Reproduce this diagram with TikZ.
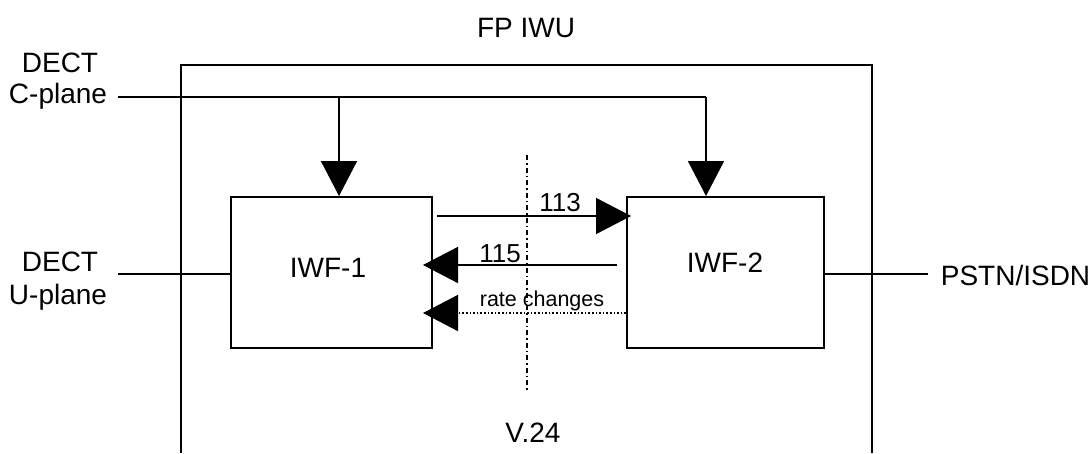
\documentclass[tikz,border=0pt]{standalone}
\usepackage{fontspec}
\setmainfont{Liberation Sans}
\usetikzlibrary{arrows.meta}
\begin{document}
\begin{tikzpicture}[x=1pt,y=-1pt,
  line width=1.7pt,
  txt/.style={inner sep=0pt,anchor=base,font=\fontsize{28}{30}\selectfont},
  num/.style={inner sep=0pt,anchor=base,font=\fontsize{26}{28}\selectfont},
  small/.style={inner sep=0pt,anchor=base,font=\fontsize{21.5}{24}\selectfont},
  fbox/.style={draw,line width=1.7pt,anchor=north west,inner sep=0pt},
  bigtip/.style={-{Triangle[length=35pt,width=36pt]}},
  dashdot/.style={line width=1.3pt,dash pattern=on 5pt off 3pt on 1.5pt off 3pt},
  dots/.style={line width=1.6pt,dash pattern=on 1.6pt off 2pt}]
\useasboundingbox (0,0) rectangle (1090,453);

% outer FP IWU frame (open at bottom)
\draw (181,453) -- (181,65) -- (872,65) -- (872,453);

% function boxes
\node[fbox,minimum width=201pt,minimum height=151pt] (iwf1) at (230,196) {};
\node[fbox,minimum width=197pt,minimum height=151pt] (iwf2) at (626,196) {};

% labels
\node[txt] (fpiwu) at (526,37) {FP IWU};
\node[txt] (dect1) at (60,72) {DECT};
\node[txt] (cplane) at (58,103) {C-plane};
\node[txt] (dect2) at (60,271) {DECT};
\node[txt] (uplane) at (58,304) {U-plane};
\node[txt,anchor=base west] (pstn) at (940,285) {PSTN/ISDN};
\node[txt] (l1) at (328,277) {IWF-1};
\node[txt] (l2) at (725,272) {IWF-2};
\node[txt] (v24) at (533,442) {V.24};
\node[num] (n113) at (560,211) {113};
\node[num] (n115) at (500,262) {115};
\node[small] (rate) at (542,306) {rate changes};

% coordinates
\coordinate (cs) at (118,97);
\coordinate (cb1) at (339,97);
\coordinate (cb2) at (706,97);
\coordinate (us) at (118,274);
\coordinate (pe) at (928,274);
\coordinate (a113s) at (437,216);
\coordinate (a113e) at (631,216);
\coordinate (a115s) at (617,265);
\coordinate (a115e) at (423,265);
\coordinate (rs) at (626,313);
\coordinate (re) at (423,313);
\coordinate (vt) at (527,155);
\coordinate (vb) at (527,392);

% C-plane
\draw (cs) -- (cb2);
\draw[bigtip] (cb1) -- (cb1 |- iwf1.north);
\draw[bigtip] (cb2) -- (cb2 |- iwf2.north);

% U-plane and PSTN
\draw (us) -- (us -| iwf1.west);
\draw (iwf2.east |- pe) -- (pe);

% internal arrows
\draw[bigtip] (a113s) -- (a113e);
\draw[bigtip] (a115s) -- (a115e);
\draw[dots,bigtip] (rs) -- (re);

% separation line
\draw[dashdot] (vt) -- (vb);
\end{tikzpicture}
\end{document}
